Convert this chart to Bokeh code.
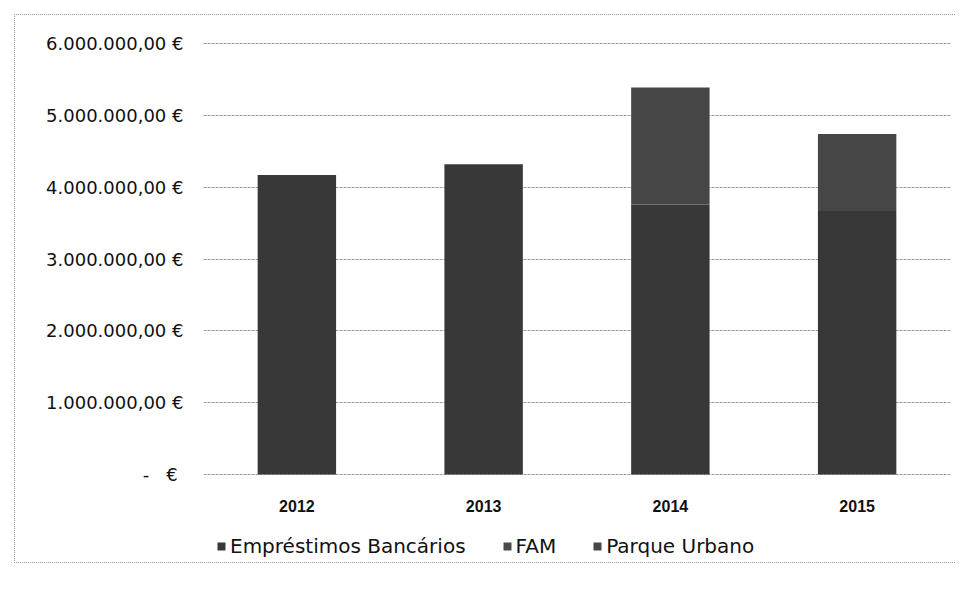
from bokeh.plotting import figure
from bokeh.layouts import column
from bokeh.models import FixedTicker, Legend, LegendItem, ColumnDataSource, FactorRange
from bokeh.embed import file_html
from bokeh.resources import INLINE

years = ["2012", "2013", "2014", "2015"]
emprestimos = [4170000, 4320000, 3760000, 3670000]
fam = [0, 0, 0, 0]
parque = [0, 0, 1630000, 1070000]
series = ["Empréstimos Bancários", "FAM", "Parque Urbano"]
colors = ["#383838", "#4a4a4a", "#464646"]
tick_values = [0, 1000000, 2000000, 3000000, 4000000, 5000000, 6000000]
tick_labels = ["-\u00a0\u00a0\u00a0€\u00a0", "1.000.000,00 €", "2.000.000,00 €", "3.000.000,00 €",
               "4.000.000,00 €", "5.000.000,00 €", "6.000.000,00 €"]

FONT = "DejaVu Sans"
W = 940

src = ColumnDataSource(dict(year=years, e=emprestimos, f=fam, p=parque))

p = figure(x_range=FactorRange(*years), y_range=(-15000, 6015000),
           width=W, height=500, output_backend="svg", toolbar_location=None,
           min_border_left=188, min_border_right=5, min_border_top=27, min_border_bottom=40)
p.outline_line_color = None
p.x_range.range_padding = 0

r = p.vbar_stack(["e", "f", "p"], x="year", width=0.42, source=src,
                 color=colors, line_color=None)

p.yaxis.ticker = FixedTicker(ticks=tick_values)
p.yaxis.major_label_overrides = {v: l for v, l in zip(tick_values, tick_labels)}
p.yaxis.axis_line_color = None
p.yaxis.major_tick_line_color = None
p.yaxis.minor_tick_line_color = None
p.yaxis.major_label_standoff = 14
p.yaxis.major_label_text_font = FONT
p.yaxis.major_label_text_font_size = "18px"
p.yaxis.major_label_text_color = "#111111"

p.xaxis.axis_line_color = None
p.xaxis.major_tick_line_color = None
p.xaxis.major_label_standoff = 18
p.xaxis.major_label_text_font = "Liberation Sans"
p.xaxis.major_label_text_font_style = "bold"
p.xaxis.major_label_text_font_size = "16px"
p.xaxis.major_label_text_color = "#111111"

p.xgrid.grid_line_color = None
p.ygrid.grid_line_color = "#999999"
p.ygrid.grid_line_width = 1
p.ygrid.grid_line_dash = "3 1"

# legend strip: legend entries tied to zero-width copies of the stacked series
lg = figure(x_range=FactorRange(*years), y_range=(-15000, 6015000),
            width=W, height=47, output_backend="svg", toolbar_location=None,
            min_border_left=0, min_border_right=0, min_border_top=0, min_border_bottom=0)
lg.axis.visible = False
lg.grid.grid_line_color = None
lg.outline_line_color = None
r2 = lg.vbar_stack(["e", "f", "p"], x="year", width=0, source=src,
                   color=colors, line_color=None)

legend = Legend(items=[LegendItem(label=s, renderers=[rr]) for s, rr in zip(series, r2)],
                orientation="horizontal", location=(13, 4),
                label_text_font=FONT, label_text_font_size="20px", label_text_color="#111111",
                glyph_width=10, glyph_height=10, spacing=36, border_line_color=None,
                background_fill_alpha=0, margin=0, padding=2, label_standoff=4)
lg.add_layout(legend, "center")

layout = column(p, lg, spacing=0)
layout.margin = (14, 0, 0, 14)
layout.styles = {"border-left": "1px dotted #9a9a9a", "border-top": "1px dotted #9a9a9a",
                 "border-bottom": "1px dotted #9a9a9a"}

open("out.html", "w").write(file_html(layout, INLINE))
